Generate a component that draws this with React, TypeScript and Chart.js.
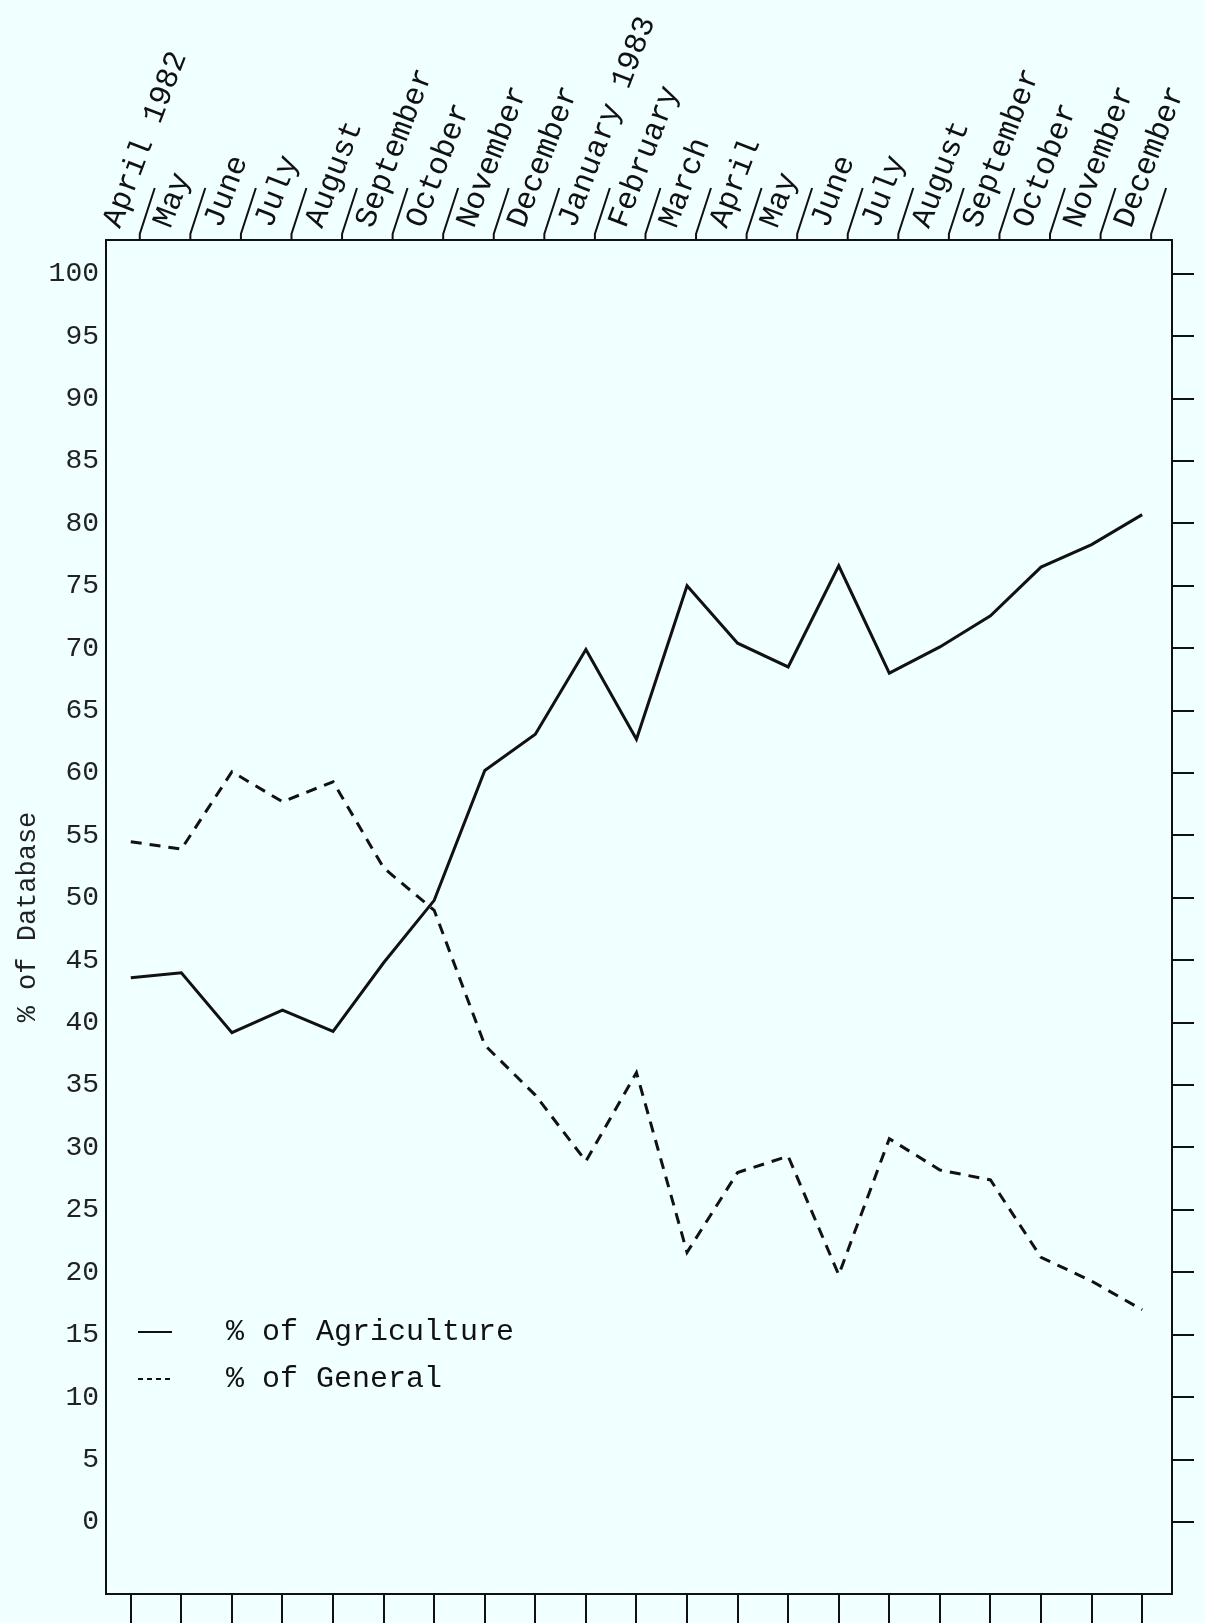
import React, { useEffect, useRef } from "react";
import { Chart, registerables } from "chart.js";

Chart.register(...registerables);

const monthLabels = [
  "April 1982", "May", "June", "July", "August", "September", "October",
  "November", "December", "January 1983", "February", "March", "April",
  "May", "June", "July", "August", "September", "October", "November", "December",
];
const agriculture = [
  43.6, 44.0, 39.2, 41.0, 39.3, 44.8, 49.8, 60.2, 63.1, 69.9, 62.7,
  75.0, 70.4, 68.5, 76.6, 68.0, 70.1, 72.6, 76.5, 78.3, 80.7,
];
const general = [
  54.5, 53.9, 60.1, 57.7, 59.3, 52.4, 49.0, 38.2, 34.2, 28.9, 36.0,
  21.6, 28.0, 29.3, 19.8, 30.7, 28.2, 27.4, 21.2, 19.3, 17.0,
];
const yTickValues = [0, 5, 10, 15, 20, 25, 30, 35, 40, 45, 50, 55, 60, 65, 70, 75, 80, 85, 90, 95, 100];
const seriesNames = ["% of Agriculture", "% of General"];
const yTitle = "% of Database";

const W = 1205;
const H = 1623;
const INK = "#111";
const MONO = "'Liberation Mono', 'DejaVu Sans Mono', monospace";

const separatorPlugin = {
  id: "separators",
  afterDraw(chart: any) {
    const sc = chart.scales.x;
    const ctx = chart.ctx;
    const top = chart.chartArea.top;
    ctx.save();
    ctx.strokeStyle = INK;
    ctx.lineWidth = 2;
    const ang = (72 * Math.PI) / 180;
    const h = 52;
    monthLabels.forEach((_, i) => {
      const bx = sc.getPixelForValue(i) + 9;
      ctx.beginPath();
      ctx.moveTo(bx, top);
      ctx.lineTo(bx, top - 6);
      ctx.lineTo(bx + (h - 6) / Math.tan(ang), top - h);
      ctx.stroke();
    });
    ctx.restore();
  },
};

const legendPlugin = {
  id: "insideLegend",
  afterDraw(chart: any) {
    const ctx = chart.ctx;
    const { left, bottom } = chart.chartArea;
    ctx.save();
    ctx.font = `30px ${MONO}`;
    ctx.fillStyle = INK;
    ctx.textBaseline = "middle";
    ctx.textAlign = "left";
    chart.data.datasets.forEach((ds: any, i: number) => {
      const y = bottom - 262 + i * 47;
      ctx.strokeStyle = INK;
      ctx.lineWidth = 2;
      ctx.setLineDash(i === 0 ? [] : [5, 4]);
      ctx.beginPath();
      ctx.moveTo(left + 32, y);
      ctx.lineTo(left + 66, y);
      ctx.stroke();
      ctx.setLineDash([]);
      ctx.fillText(ds.label, left + 120, y);
    });
    ctx.restore();
  },
};

export default function App() {
  const ref = useRef<HTMLCanvasElement | null>(null);

  useEffect(() => {
    if (!ref.current) return;
    const setTicks = (vals: number[]) => (scale: any) => {
      scale.ticks = vals.map((v) => ({ value: v }));
    };
    const idx = monthLabels.map((_, i) => i);
    const chart = new Chart(ref.current, {
      type: "line",
      data: {
        datasets: [
          {
            label: seriesNames[0],
            data: agriculture.map((v, i) => ({ x: i, y: v })),
            borderColor: INK,
            borderWidth: 3,
            pointRadius: 0,
            fill: false,
            tension: 0,
          },
          {
            label: seriesNames[1],
            data: general.map((v, i) => ({ x: i, y: v })),
            borderColor: INK,
            borderWidth: 3,
            borderDash: [11, 8],
            pointRadius: 0,
            fill: false,
            tension: 0,
          },
        ],
      },
      options: {
        animation: false,
        responsive: false,
        layout: { padding: 0 },
        plugins: { legend: { display: false }, tooltip: { enabled: false } },
        scales: {
          x: {
            type: "linear",
            position: "bottom",
            min: -0.49,
            max: 20.59,
            afterBuildTicks: setTicks(idx),
            afterFit: (s: any) => { s.height = H - 1594; },
            ticks: { display: false },
            grid: { drawOnChartArea: false, drawTicks: true, tickLength: 29, color: INK, lineWidth: 2 },
            border: { display: true, color: INK, width: 2 },
          },
          xTop: {
            type: "linear",
            position: "top",
            min: -0.49,
            max: 20.59,
            afterBuildTicks: setTicks(idx),
            afterFit: (s: any) => { s.height = 240; },
            ticks: {
              display: true,
              autoSkip: false,
              minRotation: 69,
              maxRotation: 69,
              padding: 7,
              labelOffset: 16,
              color: INK,
              font: { family: MONO, size: 31 },
              callback: (v: any) => monthLabels[v as number],
            },
            grid: { display: false, drawTicks: false },
            border: { display: true, color: INK, width: 2 },
          },
          y: {
            type: "linear",
            position: "left",
            min: -5.77,
            max: 102.7,
            afterBuildTicks: setTicks(yTickValues),
            afterFit: (s: any) => { s.width = 106; },
            ticks: { color: "#222", padding: 7, font: { family: MONO, size: 28 } },
            grid: { display: false, drawTicks: false },
            border: { display: true, color: INK, width: 2 },
            title: {
              display: true,
              text: yTitle,
              color: "#222",
              padding: { top: 12, bottom: 0 },
              font: { family: MONO, size: 27 },
            },
          },
          yRight: {
            type: "linear",
            position: "right",
            min: -5.77,
            max: 102.7,
            afterBuildTicks: setTicks(yTickValues),
            afterFit: (s: any) => { s.width = W - 1172; },
            ticks: { display: false },
            grid: { drawOnChartArea: false, drawTicks: true, tickLength: 22, color: INK, lineWidth: 2 },
            border: { display: true, color: INK, width: 2 },
          },
        },
      },
      plugins: [separatorPlugin, legendPlugin],
    });
    return () => chart.destroy();
  }, []);

  return (
    <div style={{ position: "fixed", left: 0, top: 0, width: W, height: H, background: "#f0ffff" }}>
      <canvas ref={ref} width={W} height={H} style={{ display: "block", width: W, height: H }} />
    </div>
  );
}
